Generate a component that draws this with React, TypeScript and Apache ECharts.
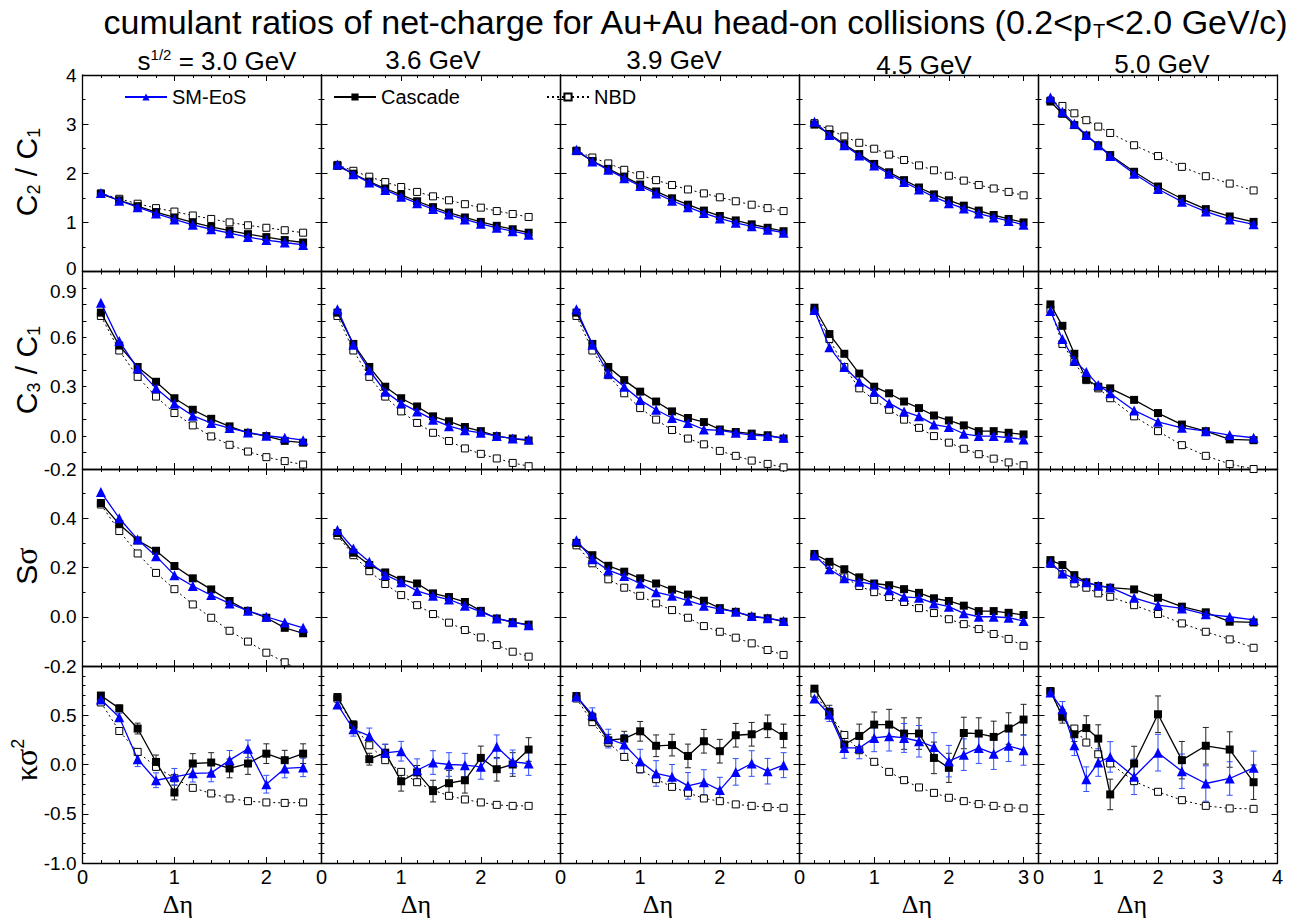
import React, { useEffect, useRef } from 'react';
import * as echarts from 'echarts';

// ---------------- data ----------------
const ENERGIES = ['3.0', '3.6', '3.9', '4.5', '5.0'];
const MODELS = ['SM-EoS', 'Cascade', 'NBD'];

const ETA_30 = [0.2, 0.4, 0.6, 0.8, 1.0, 1.2, 1.4, 1.6, 1.8, 2.0, 2.2, 2.4];
const ETA_36 = [0.2, 0.4, 0.6, 0.8, 1.0, 1.2, 1.4, 1.6, 1.8, 2.0, 2.2, 2.4, 2.6];
const ETA_39 = [0.2, 0.4, 0.6, 0.8, 1.0, 1.2, 1.4, 1.6, 1.8, 2.0, 2.2, 2.4, 2.6, 2.8];
const ETA_45 = [0.2, 0.4, 0.6, 0.8, 1.0, 1.2, 1.4, 1.6, 1.8, 2.0, 2.2, 2.4, 2.6, 2.8, 3.0];
const ETA_50 = [0.2, 0.4, 0.6, 0.8, 1.0, 1.2, 1.6, 2.0, 2.4, 2.8, 3.2, 3.6];
const ETA = [ETA_30, ETA_36, ETA_39, ETA_45, ETA_50];

// C2/C1
const C2C1_SM = [
  [1.60, 1.44, 1.31, 1.18, 1.06, 0.95, 0.86, 0.78, 0.70, 0.64, 0.59, 0.54],
  [2.18, 1.98, 1.81, 1.66, 1.52, 1.39, 1.27, 1.16, 1.06, 0.97, 0.89, 0.82, 0.75],
  [2.48, 2.24, 2.07, 1.90, 1.74, 1.59, 1.44, 1.31, 1.19, 1.08, 0.99, 0.92, 0.85, 0.79],
  [3.05, 2.78, 2.57, 2.36, 2.16, 1.99, 1.82, 1.67, 1.52, 1.39, 1.28, 1.18, 1.10, 1.03, 0.95],
  [3.54, 3.25, 3.01, 2.78, 2.57, 2.35, 1.99, 1.68, 1.42, 1.22, 1.06, 0.96],
];
const C2C1_CAS = [
  [1.58, 1.45, 1.33, 1.21, 1.10, 1.00, 0.91, 0.83, 0.76, 0.70, 0.64, 0.59],
  [2.15, 1.99, 1.83, 1.69, 1.56, 1.43, 1.31, 1.20, 1.10, 1.01, 0.93, 0.86, 0.79],
  [2.45, 2.25, 2.09, 1.93, 1.77, 1.63, 1.49, 1.36, 1.24, 1.13, 1.04, 0.96, 0.89, 0.82],
  [2.99, 2.80, 2.59, 2.39, 2.19, 2.02, 1.86, 1.71, 1.57, 1.45, 1.34, 1.24, 1.15, 1.07, 1.00],
  [3.46, 3.21, 2.98, 2.77, 2.57, 2.37, 2.03, 1.73, 1.48, 1.27, 1.12, 1.01],
];
const C2C1_NBD = [
  [1.59, 1.48, 1.38, 1.29, 1.22, 1.14, 1.07, 1.00, 0.94, 0.89, 0.84, 0.79],
  [2.17, 2.05, 1.93, 1.82, 1.72, 1.62, 1.53, 1.45, 1.37, 1.30, 1.23, 1.17, 1.11],
  [2.46, 2.32, 2.20, 2.07, 1.96, 1.86, 1.76, 1.67, 1.59, 1.51, 1.43, 1.36, 1.29, 1.23],
  [3.02, 2.89, 2.75, 2.62, 2.50, 2.38, 2.27, 2.16, 2.06, 1.95, 1.85, 1.76, 1.69, 1.62, 1.55],
  [3.48, 3.37, 3.22, 3.08, 2.95, 2.82, 2.57, 2.35, 2.13, 1.94, 1.79, 1.65],
];

// C3/C1
const C3C1_SM = [
  [0.81, 0.577, 0.41, 0.29, 0.197, 0.124, 0.079, 0.049, 0.022, 0.002, -0.01, -0.025],
  [0.77, 0.555, 0.40, 0.27, 0.20, 0.15, 0.10, 0.06, 0.035, 0.02, 0.0, -0.015, -0.021],
  [0.77, 0.555, 0.38, 0.30, 0.22, 0.16, 0.11, 0.08, 0.04, 0.035, 0.02, 0.006, 0.0, -0.01],
  [0.766, 0.54, 0.42, 0.33, 0.27, 0.20, 0.15, 0.12, 0.07, 0.055, 0.014, 0.0, 0.0, -0.01, -0.02],
  [0.76, 0.59, 0.46, 0.39, 0.31, 0.26, 0.156, 0.087, 0.05, 0.03, 0.006, -0.01],
];
const C3C1_CAS = [
  [0.75, 0.55, 0.42, 0.33, 0.23, 0.16, 0.105, 0.059, 0.02, 0.0, -0.029, -0.04],
  [0.75, 0.56, 0.42, 0.30, 0.23, 0.18, 0.12, 0.09, 0.055, 0.03, 0.0, -0.015, -0.027],
  [0.75, 0.56, 0.42, 0.34, 0.27, 0.21, 0.15, 0.11, 0.085, 0.04, 0.025, 0.015, 0.005, -0.015],
  [0.78, 0.62, 0.50, 0.38, 0.30, 0.26, 0.21, 0.17, 0.125, 0.095, 0.065, 0.03, 0.03, 0.02, 0.01],
  [0.80, 0.67, 0.50, 0.345, 0.30, 0.29, 0.22, 0.14, 0.07, 0.03, -0.02, -0.025],
];
const C3C1_NBD = [
  [0.73, 0.52, 0.36, 0.24, 0.14, 0.065, -0.002, -0.053, -0.094, -0.128, -0.152, -0.173],
  [0.73, 0.52, 0.36, 0.24, 0.15, 0.08, 0.02, -0.03, -0.075, -0.108, -0.136, -0.163, -0.183],
  [0.73, 0.52, 0.37, 0.26, 0.17, 0.10, 0.037, -0.015, -0.05, -0.09, -0.12, -0.149, -0.169, -0.19],
  [0.76, 0.59, 0.42, 0.29, 0.22, 0.16, 0.10, 0.05, 0.0, -0.04, -0.077, -0.11, -0.137, -0.16, -0.177],
  [0.77, 0.56, 0.45, 0.34, 0.29, 0.23, 0.12, 0.03, -0.055, -0.12, -0.17, -0.20],
];

// S sigma
const SSIG_SM = [
  [0.507, 0.40, 0.314, 0.246, 0.169, 0.125, 0.088, 0.054, 0.024, 0.0, -0.023, -0.045],
  [0.352, 0.277, 0.223, 0.17, 0.14, 0.105, 0.085, 0.07, 0.045, 0.02, -0.007, -0.022, -0.035],
  [0.311, 0.233, 0.189, 0.165, 0.135, 0.10, 0.085, 0.065, 0.045, 0.031, 0.02, 0.003, -0.006, -0.017],
  [0.25, 0.193, 0.156, 0.142, 0.131, 0.108, 0.081, 0.077, 0.054, 0.041, 0.014, 0.0, 0.0, -0.004, -0.017],
  [0.22, 0.176, 0.156, 0.14, 0.126, 0.119, 0.077, 0.047, 0.034, 0.01, 0.0, -0.013],
];
const SSIG_CAS = [
  [0.462, 0.376, 0.31, 0.268, 0.206, 0.156, 0.111, 0.064, 0.024, -0.004, -0.045, -0.067],
  [0.34, 0.26, 0.21, 0.18, 0.15, 0.135, 0.095, 0.08, 0.06, 0.024, -0.007, -0.022, -0.032],
  [0.30, 0.25, 0.207, 0.183, 0.156, 0.135, 0.11, 0.09, 0.065, 0.035, 0.02, 0.0, -0.006, -0.02],
  [0.255, 0.223, 0.193, 0.16, 0.135, 0.128, 0.112, 0.097, 0.075, 0.064, 0.045, 0.023, 0.023, 0.016, 0.007],
  [0.23, 0.21, 0.169, 0.14, 0.125, 0.118, 0.111, 0.077, 0.041, 0.018, -0.02, -0.023],
];
const SSIG_NBD = [
  [0.456, 0.348, 0.257, 0.178, 0.112, 0.05, -0.004, -0.057, -0.101, -0.146, -0.185, -0.225],
  [0.33, 0.25, 0.185, 0.133, 0.088, 0.047, 0.011, -0.024, -0.054, -0.084, -0.115, -0.142, -0.162],
  [0.29, 0.217, 0.152, 0.118, 0.085, 0.054, 0.027, -0.004, -0.038, -0.061, -0.085, -0.108, -0.135, -0.155],
  [0.245, 0.21, 0.16, 0.125, 0.10, 0.08, 0.06, 0.035, 0.015, -0.01, -0.03, -0.05, -0.07, -0.09, -0.118],
  [0.215, 0.173, 0.135, 0.118, 0.095, 0.081, 0.047, 0.011, -0.027, -0.061, -0.092, -0.126],
];

// kappa sigma^2
const KSIG_SM = [
  [0.66, 0.48, 0.054, -0.16, -0.125, -0.09, -0.085, 0.044, 0.16, -0.2, -0.04, -0.03],
  [0.61, 0.358, 0.29, 0.118, 0.135, -0.058, 0.02, 0.0, -0.007, -0.024, 0.18, 0.027, 0.01],
  [0.69, 0.507, 0.263, 0.203, 0.034, -0.091, -0.125, -0.217, -0.18, -0.26, -0.075, 0.01, -0.068, -0.007],
  [0.67, 0.507, 0.168, 0.168, 0.27, 0.287, 0.27, 0.236, 0.178, 0.034, 0.10, 0.168, 0.11, 0.19, 0.145],
  [0.73, 0.56, 0.196, -0.149, 0.02, 0.077, -0.125, 0.12, -0.068, -0.193, -0.142, -0.034],
];
const KSIG_SM_ERR = [
  [0.027, 0.04, 0.075, 0.075, 0.085, 0.088, 0.09, 0.098, 0.088, 0.09, 0.095, 0.093],
  [0.024, 0.07, 0.08, 0.088, 0.1, 0.115, 0.12, 0.12, 0.12, 0.125, 0.12, 0.12, 0.12],
  [0.02, 0.068, 0.095, 0.1, 0.12, 0.13, 0.125, 0.135, 0.127, 0.13, 0.135, 0.13, 0.13, 0.127],
  [0.024, 0.07, 0.105, 0.11, 0.14, 0.15, 0.147, 0.16, 0.145, 0.16, 0.16, 0.157, 0.16, 0.16, 0.152],
  [0.027, 0.08, 0.105, 0.125, 0.14, 0.155, 0.18, 0.186, 0.175, 0.18, 0.17, 0.17],
];
const KSIG_CAS = [
  [0.70, 0.57, 0.365, 0.026, -0.284, 0.01, 0.02, -0.04, 0.01, 0.11, 0.044, 0.11],
  [0.685, 0.405, 0.054, 0.12, -0.17, -0.08, -0.27, -0.19, -0.16, 0.067, -0.048, 0.0, 0.152],
  [0.695, 0.48, 0.246, 0.263, 0.337, 0.19, 0.197, 0.087, 0.236, 0.135, 0.297, 0.307, 0.388, 0.29],
  [0.77, 0.533, 0.203, 0.29, 0.405, 0.405, 0.314, 0.314, 0.067, -0.034, 0.32, 0.314, 0.28, 0.365, 0.456],
  [0.743, 0.49, 0.307, 0.37, 0.263, -0.304, 0.01, 0.51, 0.044, 0.19, 0.152, -0.18],
];
const KSIG_CAS_ERR = [
  [0.027, 0.034, 0.055, 0.07, 0.075, 0.1, 0.1, 0.095, 0.11, 0.1, 0.1, 0.1],
  [0.024, 0.037, 0.06, 0.085, 0.1, 0.07, 0.11, 0.13, 0.13, 0.12, 0.12, 0.12, 0.12],
  [0.02, 0.044, 0.06, 0.074, 0.1, 0.11, 0.11, 0.12, 0.12, 0.12, 0.12, 0.12, 0.115, 0.12],
  [0.024, 0.068, 0.075, 0.12, 0.128, 0.155, 0.16, 0.16, 0.16, 0.148, 0.16, 0.16, 0.16, 0.16, 0.155],
  [0.027, 0.07, 0.074, 0.125, 0.14, 0.155, 0.175, 0.186, 0.19, 0.186, 0.18, 0.175],
];
const KSIG_NBD = [
  [0.63, 0.34, 0.128, -0.024, -0.14, -0.237, -0.294, -0.345, -0.372, -0.385, -0.39, -0.385],
  [0.67, 0.40, 0.195, 0.044, -0.075, -0.18, -0.26, -0.318, -0.355, -0.385, -0.41, -0.42, -0.42],
  [0.67, 0.43, 0.223, 0.077, -0.048, -0.149, -0.227, -0.287, -0.345, -0.372, -0.405, -0.42, -0.433, -0.44],
  [0.72, 0.517, 0.30, 0.145, 0.027, -0.075, -0.159, -0.233, -0.288, -0.338, -0.372, -0.402, -0.42, -0.44, -0.445],
  [0.745, 0.48, 0.365, 0.223, 0.104, 0.01, -0.169, -0.277, -0.362, -0.42, -0.446, -0.45],
];

// axis ranges and tick labels
const X_MAX = [2.6, 3, 3, 3.2, 4];
const X_TICK_LABELS = [[0, 1, 2], [0, 1, 2], [0, 1, 2], [0, 1, 2, 3], [0, 1, 2, 3, 4]];
const Y_MIN = [0, -0.2, -0.2, -1];
const Y_MAX = [4, 1, 0.6, 1];
const Y_INTERVAL = [1, 0.1, 0.2, 0.5];
const Y_MINOR_SPLIT = [2, 0, 2, 5];
const Y_TICK_LABELS = [[0, 1, 2, 3, 4], [-0.2, 0, 0.3, 0.6, 0.9], [-0.2, 0, 0.2, 0.4], [-1, -0.5, 0, 0.5]];

const ROWS_SM = [C2C1_SM, C3C1_SM, SSIG_SM, KSIG_SM];
const ROWS_CAS = [C2C1_CAS, C3C1_CAS, SSIG_CAS, KSIG_CAS];
const ROWS_NBD = [C2C1_NBD, C3C1_NBD, SSIG_NBD, KSIG_NBD];

// ---------------- layout / style ----------------
const FONT = "'Liberation Sans', Arial, Helvetica, sans-serif";
const SERIF = "'Liberation Serif', 'Times New Roman', serif";
const GRID_LEFT = [82.5, 321.5, 560.5, 799.5, 1038.5];
const GRID_W = 239;
const GRID_TOP = [75, 271.5, 469, 666];
const GRID_H = [196.5, 197.5, 197, 197];
const BLUE = '#0000ff';
const TICK_FONT = 19;

function errRender(color: string) {
  return (params: any, api: any) => {
    const x = api.value(0);
    const y = api.value(1);
    const e = api.value(2);
    const hi = api.coord([x, y + e]);
    const lo = api.coord([x, y - e]);
    const cap = 3;
    const style = { stroke: color, lineWidth: 1 };
    return {
      type: 'group',
      children: [
        { type: 'line', shape: { x1: hi[0], y1: hi[1], x2: lo[0], y2: lo[1] }, style },
        { type: 'line', shape: { x1: hi[0] - cap, y1: hi[1], x2: hi[0] + cap, y2: hi[1] }, style },
        { type: 'line', shape: { x1: lo[0] - cap, y1: lo[1], x2: lo[0] + cap, y2: lo[1] }, style },
      ],
    };
  };
}

function yLabelFormatter(r: number) {
  return (v: number) => {
    const txt = r === 0 ? String(Math.round(v)) : (Math.abs(v) < 1e-9 ? '0.0' : v.toFixed(1));
    // labels at a shared row boundary are nudged apart a little
    if (r === 0 && Math.abs(v) < 1e-9) return `{up|${txt}}`;
    if (r === 1 && Math.abs(v - 0.9) < 1e-9) return `{dn|${txt}}`;
    return txt;
  };
}

function buildOption() {
  const grid: any[] = [];
  const xAxis: any[] = [];
  const yAxis: any[] = [];
  const series: any[] = [];
  const axisLine = { show: true, onZero: false, lineStyle: { color: '#000', width: 1.3 } };
  const tickStyle = { color: '#000', width: 1 };
  const labelRich = {
    up: { fontSize: TICK_FONT, fontFamily: FONT, color: '#000', padding: [0, 0, 7, 0] },
    dn: { fontSize: TICK_FONT, fontFamily: FONT, color: '#000', padding: [7, 0, 0, 0] },
  };

  for (let r = 0; r < 4; r++) {
    for (let c = 0; c < 5; c++) {
      const p = r * 5 + c;
      grid.push({ left: GRID_LEFT[c], top: GRID_TOP[r], width: GRID_W, height: GRID_H[r], containLabel: false });
      for (let side = 0; side < 2; side++) {
        xAxis.push({
          type: 'value', gridIndex: p, min: 0, max: X_MAX[c], interval: 1,
          position: side === 0 ? 'bottom' : 'top',
          axisLine,
          axisTick: { show: true, inside: true, length: 6, lineStyle: tickStyle },
          minorTick: { show: true, splitNumber: 5, length: 3, lineStyle: tickStyle },
          axisLabel: side === 0 && r === 3
            ? { show: true, customValues: X_TICK_LABELS[c], fontSize: 20, lineHeight: 16, color: '#000', fontFamily: FONT, margin: 6 }
            : { show: false },
          splitLine: { show: false },
          minorSplitLine: { show: false },
        });
        yAxis.push({
          type: 'value', gridIndex: p, min: Y_MIN[r], max: Y_MAX[r], interval: Y_INTERVAL[r],
          position: side === 0 ? 'left' : 'right',
          axisLine,
          axisTick: { show: true, inside: true, length: r === 1 ? 4 : 6, lineStyle: tickStyle },
          minorTick: { show: Y_MINOR_SPLIT[r] > 0, splitNumber: Y_MINOR_SPLIT[r] || 2, length: 3, lineStyle: tickStyle },
          axisLabel: side === 0 && c === 0
            ? {
                show: true, customValues: Y_TICK_LABELS[r], fontSize: TICK_FONT, color: '#000', fontFamily: FONT, margin: 6,
                formatter: yLabelFormatter(r), rich: labelRich,
              }
            : { show: false },
          splitLine: { show: false },
          minorSplitLine: { show: false },
        });
      }
      const xi = 2 * p;
      const yi = 2 * p;
      const xs = ETA[c];
      const nbd = ROWS_NBD[r][c];
      const cas = ROWS_CAS[r][c];
      const sm = ROWS_SM[r][c];
      if (r === 3) {
        series.push({
          type: 'custom', name: 'Cascade-err', xAxisIndex: xi, yAxisIndex: yi, z: 1,
          encode: { x: 0, y: 1 },
          data: xs.map((x, i) => [x, cas[i], KSIG_CAS_ERR[c][i]]),
          renderItem: errRender('#222'),
        });
        series.push({
          type: 'custom', name: 'SM-EoS-err', xAxisIndex: xi, yAxisIndex: yi, z: 1,
          encode: { x: 0, y: 1 },
          data: xs.map((x, i) => [x, sm[i], KSIG_SM_ERR[c][i]]),
          renderItem: errRender('#3050ff'),
        });
      }
      series.push({
        type: 'line', name: 'NBD', xAxisIndex: xi, yAxisIndex: yi, z: 3,
        data: xs.map((x, i) => [x, nbd[i]]),
        symbol: 'rect', symbolSize: 7,
        lineStyle: { color: '#000', width: 1, type: [2, 3] },
        itemStyle: { color: '#fff', borderColor: '#000', borderWidth: 1 },
      });
      series.push({
        type: 'line', name: 'Cascade', xAxisIndex: xi, yAxisIndex: yi, z: 4,
        data: xs.map((x, i) => [x, cas[i]]),
        symbol: 'rect', symbolSize: 8,
        lineStyle: { color: '#000', width: 1.3 },
        itemStyle: { color: '#000' },
      });
      series.push({
        type: 'line', name: 'SM-EoS', xAxisIndex: xi, yAxisIndex: yi, z: 5,
        data: xs.map((x, i) => [x, sm[i]]),
        symbol: 'triangle', symbolSize: 10,
        lineStyle: { color: BLUE, width: 1.3 },
        itemStyle: { color: BLUE },
      });
    }
  }

  const legendBase = {
    orient: 'horizontal', padding: 0, itemWidth: 42, itemHeight: 9, selectedMode: false,
    textStyle: { fontSize: 20, fontFamily: FONT, color: '#000' },
  };
  const legend = [
    { ...legendBase, data: [MODELS[0]], left: 124, top: 87 },
    { ...legendBase, data: [MODELS[1]], left: 333, top: 87 },
    { ...legendBase, data: [MODELS[2]], left: 546, top: 87 },
  ];

  const big = { fontSize: 30, fontFamily: FONT, color: '#000', lineHeight: 34 };
  const sub = { fontSize: 18, fontFamily: FONT, color: '#000', lineHeight: 18, verticalAlign: 'bottom' };
  const sup = { fontSize: 18, fontFamily: FONT, color: '#000', lineHeight: 18, verticalAlign: 'top' };
  const greek = { fontSize: 32, fontFamily: SERIF, color: '#000', lineHeight: 34 };

  const yTitles = [
    { y: 172, text: '{c|C}{s|2}{c| / C}{s|1}' },
    { y: 370, text: '{c|C}{s|3}{c| / C}{s|1}' },
    { y: 566, text: '{c|S}{g|σ}' },
    { y: 760, text: '{g|κσ}{p|2}' },
  ];
  const graphic: any[] = [];
  graphic.push({
    type: 'text', x: 695, y: 22,
    style: {
      text: '{t|cumulant ratios of net-charge for Au+Au head-on collisions (0.2<p}{s|T}{t|<2.0 GeV/c)}',
      textAlign: 'center', textVerticalAlign: 'middle', align: 'center', verticalAlign: 'middle',
      rich: {
        t: { fontSize: 34, fontFamily: FONT, color: '#000', lineHeight: 38 },
        s: { fontSize: 20, fontFamily: FONT, color: '#000', lineHeight: 20, verticalAlign: 'bottom' },
      },
    },
  });
  yTitles.forEach((t) => {
    graphic.push({
      type: 'text', x: 26, y: t.y, rotation: Math.PI / 2,
      style: {
        text: t.text, textAlign: 'center', textVerticalAlign: 'middle', align: 'center', verticalAlign: 'middle',
        rich: { c: big, s: sub, p: sup, g: greek },
      },
    });
  });
  const colTitleX = [217, 433, 674, 924, 1162];
  const colTitleY = [61, 60, 60, 65, 64];
  ENERGIES.forEach((e, c) => {
    graphic.push({
      type: 'text', x: colTitleX[c], y: colTitleY[c],
      style: {
        text: c === 0 ? `{t|s}{p|1/2}{t| = ${e} GeV}` : `{t|${e} GeV}`,
        textAlign: 'center', textVerticalAlign: 'middle', align: 'center', verticalAlign: 'middle',
        rich: {
          t: { fontSize: 26, fontFamily: FONT, color: '#000', lineHeight: 28 },
          p: { fontSize: 15, fontFamily: FONT, color: '#000', lineHeight: 15, verticalAlign: 'top' },
        },
      },
    });
  });
  const etaX = [178, 416, 658, 917, 1132];
  etaX.forEach((x) => {
    graphic.push({
      type: 'text', x, y: 904,
      style: {
        text: 'Δη', fontSize: 26, fontFamily: SERIF, fill: '#000',
        textAlign: 'center', textVerticalAlign: 'middle', align: 'center', verticalAlign: 'middle',
      },
    });
  });

  return { animation: false, backgroundColor: '#fff', grid, xAxis, yAxis, series, legend, graphic };
}

export default function App() {
  const ref = useRef<HTMLDivElement>(null);
  useEffect(() => {
    if (!ref.current) return;
    const chart = echarts.init(ref.current, undefined, { renderer: 'svg' });
    chart.setOption(buildOption() as any);
    return () => chart.dispose();
  }, []);
  return <div ref={ref} style={{ position: 'fixed', left: 0, top: 0, width: 1301, height: 922 }} />;
}
